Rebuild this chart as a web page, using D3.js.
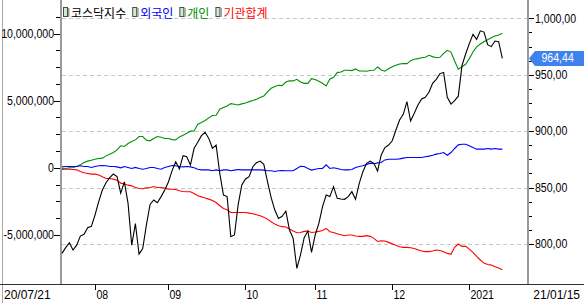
<!DOCTYPE html>
<html>
<head>
<meta charset="utf-8">
<script src="https://cdn.jsdelivr.net/npm/d3@7"></script>
<style>
  body { margin: 0; background: #fff; }
  svg { display: block; }
  text { font-family: "Liberation Sans", Arial, sans-serif; font-size: 12px; fill: #000; }
  .legend text { font-family: "Noto Sans CJK KR", sans-serif; font-size: 12px; }
</style>
</head>
<body>
<script>
// trading days 2020/07/21 ~ 2021/01/15 (KRX holidays removed)
const holidays = ['2020-08-17', '2020-09-30', '2020-10-01', '2020-10-02', '2020-10-09', '2020-12-25', '2020-12-31'];
const parse = d3.timeParse('%Y-%m-%d');
const fmtDay = d3.timeFormat('%Y-%m-%d');
const dates = d3.timeDay.range(parse('2020-07-21'), parse('2021-01-16'))
  .filter(d => d.getDay() !== 0 && d.getDay() !== 6 && !holidays.includes(fmtDay(d)));

// legend / series names
const seriesNames = ['코스닥지수', '외국인', '개인', '기관합계'];
const seriesColors = ['#000000', '#0000ff', '#009000', '#ff0000'];

// 코스닥지수 (right axis)
const kosdaq = [
  791.7, 796.8, 801.0, 794.7, 799.0, 807.0, 808.6, 814.5, 815.6, 825.7,
  837.5, 847.8, 854.3, 858.8, 862.0, 859.7, 845.0, 855.0, 836.0, 799.0,
  818.0, 791.0, 796.0, 817.0, 835.0, 839.0, 836.5, 842.0, 847.8, 855.0,
  865.0, 872.9, 866.5, 878.3, 877.4, 870.0, 884.8, 890.1, 896.0, 899.0,
  893.6, 884.8, 887.7, 862.6, 843.4, 842.0, 806.5, 808.0, 834.6, 852.3,
  857.6, 859.7, 868.5, 872.1, 873.5, 870.6, 855.2, 841.1, 830.1, 822.7,
  824.6, 829.2, 812.4, 805.0, 778.4, 790.3, 805.6, 811.5, 792.6, 808.0,
  818.3, 833.1, 843.4, 842.0, 850.8, 840.5, 839.9, 839.6, 842.0, 846.4,
  839.6, 853.8, 864.1, 871.5, 873.5, 871.5, 864.7, 878.9, 885.4, 887.7,
  891.5, 901.0, 909.9, 914.9, 926.1, 909.0, 915.8, 923.2, 928.5, 930.0,
  934.4, 942.4, 945.9, 951.0, 952.0, 930.0, 924.0, 927.0, 931.0, 958.0,
  968.4, 977.6, 985.8, 981.4, 988.9, 987.8, 976.6, 974.9, 979.9, 979.3,
  964.44
];

// 외국인 cumulative net buying (left axis)
const foreign = [
  70000, 100000, 100000, 100000, 100000, 150000, 100000, 100000, 30000, 100000,
  150000, 170000, 150000, 100000, 100000, 70000, 0, 100000, 30000, -50000,
  30000, -50000, -100000, -50000, 30000, 30000, -50000, -100000, 30000, 100000,
  170000, 150000, 100000, 70000, 100000, 70000, 0, -100000, -150000, -150000,
  -150000, -220000, -150000, -220000, -150000, -150000, -220000, -170000, -120000, -150000,
  -150000, -150000, -150000, -150000, -150000, -170000, -220000, -220000, -270000, -220000,
  -200000, -220000, -220000, -220000, -50000, 120000, 100000, -50000, -170000, -100000,
  -50000, -50000, 220000, -50000, 0, -50000, -120000, -150000, -150000, -120000,
  30000, 100000, 150000, 250000, 350000, 300000, 370000, 400000, 590000, 640000,
  640000, 640000, 670000, 720000, 770000, 770000, 770000, 770000, 770000, 820000,
  870000, 940000, 1020000, 1070000, 1140000, 940000, 1140000, 1440000, 1710000, 1760000,
  1760000, 1640000, 1510000, 1390000, 1390000, 1390000, 1440000, 1390000, 1440000, 1390000,
  1390000
];

// 개인 cumulative net buying (left axis)
const individual = [
  -150000, -50000, 0, 30000, 100000, 220000, 400000, 500000, 570000, 640000,
  690000, 720000, 890000, 1020000, 1140000, 1340000, 1640000, 1590000, 1810000, 1960000,
  2080000, 2330000, 2330000, 2060000, 2010000, 2180000, 2330000, 2280000, 2180000, 2180000,
  2100000, 2080000, 2300000, 2430000, 2580000, 2730000, 2750000, 3250000, 3370000, 3520000,
  3720000, 3890000, 3920000, 4360000, 4490000, 4610000, 4780000, 4730000, 4680000, 4760000,
  4830000, 4930000, 5010000, 5110000, 5230000, 5350000, 5650000, 5920000, 6050000, 6150000,
  6120000, 6390000, 6470000, 6470000, 6590000, 6390000, 6290000, 6290000, 6640000, 6570000,
  6440000, 6290000, 6100000, 6620000, 6740000, 7090000, 7140000, 7260000, 7260000, 7240000,
  7360000, 7210000, 7210000, 7190000, 7240000, 7260000, 7510000, 7290000, 7190000, 7380000,
  7520000, 7630000, 7730000, 7760000, 7760000, 7980000, 8080000, 8130000, 8200000, 8230000,
  8380000, 8280000, 8200000, 8230000, 8520000, 8750000, 8620000, 7950000, 7340000, 7530000,
  7710000, 8130000, 8620000, 9000000, 9220000, 9390000, 9540000, 9690000, 9810000, 9890000,
  10010000
];

// 기관합계 cumulative net buying (left axis)
const institution = [
  -50000, -100000, -100000, -120000, -150000, -270000, -370000, -420000, -470000, -470000,
  -540000, -670000, -790000, -790000, -840000, -920000, -1140000, -1210000, -1290000, -1340000,
  -1460000, -1540000, -1560000, -1490000, -1460000, -1390000, -1460000, -1460000, -1510000, -1590000,
  -1590000, -1610000, -1710000, -1760000, -1780000, -1780000, -1910000, -2080000, -2160000, -2250000,
  -2330000, -2430000, -2580000, -2820000, -3020000, -3120000, -3320000, -3320000, -3320000, -3320000,
  -3320000, -3370000, -3420000, -3490000, -3570000, -3670000, -3820000, -4010000, -4190000, -4310000,
  -4380000, -4410000, -4560000, -4710000, -4830000, -4810000, -4730000, -4710000, -4810000, -4780000,
  -4730000, -4660000, -4510000, -4760000, -4810000, -4910000, -4980000, -5050000, -5000000, -5000000,
  -5080000, -5100000, -5100000, -5050000, -5100000, -5250000, -5480000, -5430000, -5450000, -5550000,
  -5660000, -5770000, -5870000, -5920000, -5920000, -5950000, -6000000, -6100000, -6190000, -6240000,
  -6240000, -6190000, -6120000, -6150000, -6240000, -6370000, -6440000, -5920000, -5670000, -5850000,
  -5850000, -6050000, -6290000, -6590000, -6860000, -7090000, -7190000, -7240000, -7360000, -7460000,
  -7580000
];

// axis ticks
const leftTicks = [-5000000, 0, 5000000, 10000000];
const leftMinor = [-3750000, -2500000, -1250000, 1250000, 2500000, 3750000, 6250000, 7500000, 8750000, 11250000];
const rightTicks = [800, 850, 900, 950, 1000];
const rightMinor = [812.5, 825, 837.5, 862.5, 875, 887.5, 912.5, 925, 937.5, 962.5, 975, 987.5];

const W = 584, H = 303;
const plotL = 61, plotR = 528, axisY = 284;

const locale = d3.formatLocale({decimal: ',', thousands: ',', grouping: [3], currency: ['', ''], minus: '-'});
const fmtLeft = locale.format(',');
const fmtRight = locale.format(',.2f');

// squeeze numbers a little so they look like the narrow HTS font
const condense = (sel) => sel.each(function() {
  const len = this.getComputedTextLength();
  if (len > 0) {
    d3.select(this)
      .attr('textLength', len * 0.88)
      .attr('lengthAdjust', 'spacingAndGlyphs');
  }
});

const x = d3.scalePoint().domain(dates).range([62, 506]);
const yL = d3.scaleLinear().domain([-5000000, 10000000]).range([235, 33.5]);
const yR = d3.scaleLinear().domain([800, 1000]).range([244, 18.3]);

const svg = d3.select('body').append('svg')
  .attr('width', W)
  .attr('height', H);

// frame lines
svg.append('line')
  .attr('x1', 2.5).attr('x2', 2.5).attr('y1', 0).attr('y2', H)
  .attr('stroke', '#a8a8a8');
svg.append('line')
  .attr('x1', 0).attr('x2', W).attr('y1', axisY + 0.5).attr('y2', axisY + 0.5)
  .attr('stroke', '#303030');
[plotL, plotR].forEach(px => {
  svg.append('line')
    .attr('x1', px).attr('x2', px).attr('y1', 0).attr('y2', axisY)
    .attr('stroke', '#9a9a9a').attr('stroke-width', 2);
});

// dashed grid on the right axis values
svg.append('g')
  .selectAll('line')
  .data(rightTicks)
  .join('line')
  .attr('x1', plotL + 1).attr('x2', plotR - 1)
  .attr('y1', d => Math.round(yR(d)) + 0.5)
  .attr('y2', d => Math.round(yR(d)) + 0.5)
  .attr('stroke', '#c8c8c8')
  .attr('stroke-dasharray', '4,3');

// left axis
const gL = svg.append('g').attr('transform', `translate(${plotL - 1},0)`);
gL.call(d3.axisLeft(yL).tickValues(leftTicks).tickSize(6).tickPadding(0).tickFormat(fmtLeft));
gL.append('g').call(d3.axisLeft(yL).tickValues(leftMinor).tickSize(4).tickFormat(''));
gL.selectAll('.domain').remove();

// right axis
const gR = svg.append('g').attr('transform', `translate(${plotR + 1},0)`);
gR.call(d3.axisRight(yR).tickValues(rightTicks).tickSize(5).tickPadding(1).tickFormat(fmtRight));
gR.append('g').call(d3.axisRight(yR).tickValues(rightMinor).tickSize(3).tickFormat(''));
gR.selectAll('.domain').remove();

svg.selectAll('.tick line').attr('stroke', '#000').attr('shape-rendering', 'crispEdges');
svg.selectAll('.tick text')
  .attr('font-family', null).attr('font-size', null)
  .call(condense);

// month ticks on the date axis: first trading day of each month
const monthStarts = dates.filter((d, i) => i > 0 && d.getMonth() !== dates[i - 1].getMonth());
const monthLabel = d => d.getMonth() === 0 ? d3.timeFormat('%Y')(d) : d3.timeFormat('%m')(d);
const gX = svg.append('g');
gX.selectAll('line')
  .data(monthStarts)
  .join('line')
  .attr('x1', d => Math.round(x(d)) + 0.5).attr('x2', d => Math.round(x(d)) + 0.5)
  .attr('y1', axisY).attr('y2', axisY + 6)
  .attr('stroke', '#000');
gX.selectAll('text')
  .data(monthStarts)
  .join('text')
  .attr('x', d => Math.round(x(d)) + 1.5)
  .attr('y', 296)
  .attr('dominant-baseline', 'middle')
  .text(monthLabel)
  .call(condense);

// first / last date of the range
const fmtEnd = d3.timeFormat('%y/%m/%d');
svg.append('text')
  .attr('x', 4).attr('y', 296)
  .attr('dominant-baseline', 'middle')
  .text(fmtEnd(dates[0]));
svg.append('text')
  .attr('x', 580).attr('y', 296)
  .attr('text-anchor', 'end')
  .attr('dominant-baseline', 'middle')
  .text(fmtEnd(dates[dates.length - 1]));

// lines
const lineL = d3.line().x((d, i) => x(dates[i])).y(d => yL(d));
const lineR = d3.line().x((d, i) => x(dates[i])).y(d => yR(d));

const plot = svg.append('g');
[[individual, 2], [foreign, 1], [institution, 3]].forEach(([vals, c]) => {
  plot.append('path')
    .attr('d', lineL(vals))
    .attr('fill', 'none')
    .attr('stroke', seriesColors[c])
    .attr('stroke-width', 1.1);
});
plot.append('path')
  .attr('d', lineR(kosdaq))
  .attr('fill', 'none')
  .attr('stroke', seriesColors[0])
  .attr('stroke-width', 1.1);

// legend
const legend = svg.append('g').attr('class', 'legend');
let lx = 63;
seriesNames.forEach((name, i) => {
  const item = legend.append('g').attr('transform', `translate(${lx},7)`);
  item.append('rect')
    .attr('x', 0.5).attr('y', 0.5).attr('width', 4).attr('height', 9)
    .attr('fill', '#cdeccd').attr('stroke', '#4a4a4a');
  item.append('rect')
    .attr('x', 5).attr('y', 1).attr('width', 1.5).attr('height', 9)
    .attr('fill', '#9a9a9a');
  const t = item.append('text')
    .attr('x', 8).attr('y', 5)
    .attr('dominant-baseline', 'central')
    .style('fill', seriesColors[i])
    .text(name);
  lx += 8 + t.node().getComputedTextLength() + 6;
});

// last value tag
const last = kosdaq[kosdaq.length - 1];
const ty = yR(last);
svg.append('path')
  .attr('d', `M${plotR + 1},${ty} L${plotR + 7},${ty - 7.5} L${W},${ty - 7.5} L${W},${ty + 7.5} L${plotR + 7},${ty + 7.5} Z`)
  .attr('fill', '#3f82ee');
svg.append('text')
  .attr('x', 541.5).attr('y', ty + 0.5)
  .attr('dominant-baseline', 'middle')
  .style('fill', '#fff')
  .text(fmtRight(last))
  .call(condense);
</script>
</body>
</html>
